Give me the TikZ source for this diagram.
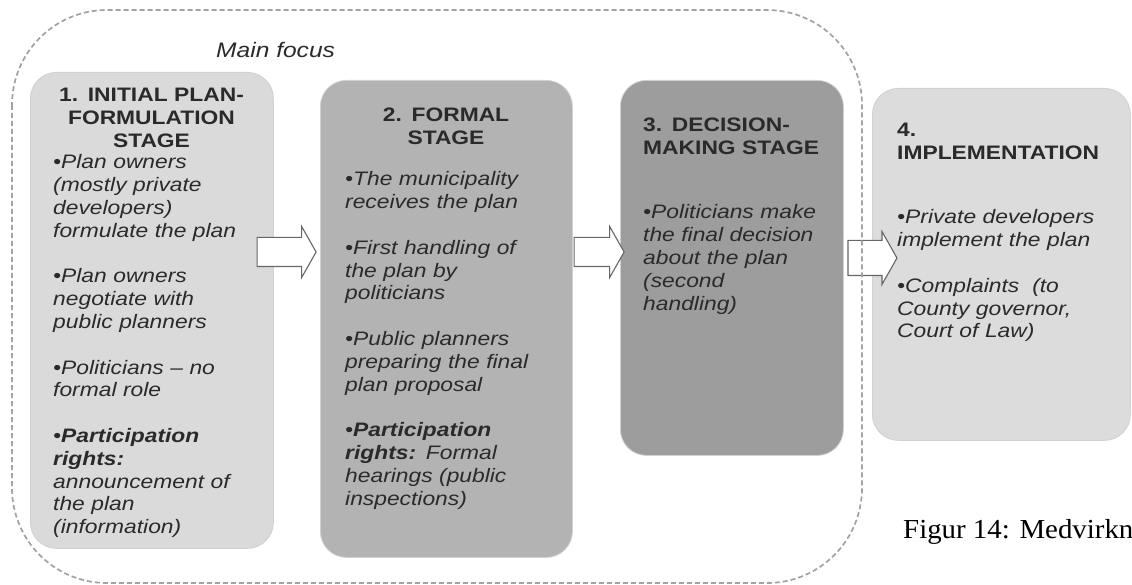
\documentclass[tikz,border=0pt]{standalone}
\usepackage{fontspec}
\setmainfont{Liberation Sans}[FakeStretch=1.17]
\newfontfamily\capfont{Liberation Serif}[FakeStretch=1.05]
\usepackage{tikz}
\usetikzlibrary{calc,shapes.arrows}
\definecolor{frameline}{HTML}{A2A2A2}
\definecolor{stageA}{HTML}{DADADA}
\definecolor{stageB}{HTML}{B3B3B3}
\definecolor{stageC}{HTML}{9D9D9D}
\definecolor{stageD}{HTML}{DCDCDC}
\definecolor{inktext}{HTML}{2A2A2A}
\tikzset{
  stagebox/.style={rounded corners=26pt, draw=black!18, line width=0.8pt, inner sep=0pt, anchor=north west},
  headtxt/.style={font=\fontsize{19.5}{22.8}\selectfont\bfseries, text=inktext, inner sep=0pt, text width=240pt},
  bodytxt/.style={font=\fontsize{19.5}{22.8}\selectfont\itshape, text=inktext, inner sep=0pt, text width=240pt, align=left, anchor=base west},
  stagearrow/.style={single arrow, draw=black!60, fill=white, line width=1.1pt, inner xsep=0pt, minimum width=0pt, single arrow tip angle=121}
}
\begin{document}
\begin{tikzpicture}[x=1pt,y=-1pt]
		\useasboundingbox (0,0) rectangle (1132,585);
		% the four stages
		\node[stagebox, fill=stageA, minimum width=243pt, minimum height=476pt] (s1) at (30,72) {};
		\node[stagebox, fill=stageB, minimum width=252pt, minimum height=477pt] (s2) at (320,80) {};
		\node[stagebox, fill=stageC, minimum width=223pt, minimum height=375pt] (s3) at (620,80) {};
		\node[stagebox, fill=stageD, minimum width=258pt, minimum height=352pt] (s4) at (872,88) {};

		% headings
		\node[headtxt, align=center, anchor=base] (h1) at (151.5,102) {1. INITIAL PLAN-\\FORMULATION\\STAGE};
		\node[headtxt, align=center, anchor=base] (h2) at (446,122) {2. FORMAL\\STAGE};
		\node[headtxt, align=left, anchor=base west] (h3) at (643,132) {3. DECISION-\\MAKING STAGE};
		\node[headtxt, align=left, anchor=base west] (h4) at (897,137) {4.\\IMPLEMENTATION};

		% bullet texts
		\node[bodytxt] (b1) at (53,169) {•Plan owners\\(mostly private\\developers)\\formulate the plan\\[22.8pt]
			•Plan owners\\negotiate with\\public planners\\[22.8pt]
			•Politicians – no\\formal role\\[22.8pt]
			•{\bfseries Participation}\\{\bfseries rights:}\\announcement of\\the plan\\(information)};
		\node[bodytxt] (b2) at (345,186) {•The municipality\\receives the plan\\[22.8pt]
			•First handling of\\the plan by\\politicians\\[22.8pt]
			•Public planners\\preparing the final\\plan proposal\\[22.8pt]
			•{\bfseries Participation}\\{\bfseries rights:} Formal\\hearings (public\\inspections)};
		\node[bodytxt] (b3) at (643,219) {•Politicians make\\the final decision\\about the plan\\(second\\handling)};
		\node[bodytxt] (b4) at (897,224) {•Private developers\\implement the plan\\[22.8pt]
			•Complaints~ (to\\County governor,\\Court of Law)};

		% hollow arrows between the stages
		\node[stagearrow, inner ysep=14pt, single arrow head extend=11pt, minimum height=59pt] (a12) at (282.5,252) {};
		\node[stagearrow, inner ysep=14pt, single arrow head extend=11pt, minimum height=50pt] (a23) at (595,252) {};
		\node[stagearrow, inner ysep=17pt, single arrow head extend=9pt, minimum height=49pt] (a34) at (867.5,258) {};

		% dashed frame round the main focus
		\draw[frameline, line width=1.7pt, dash pattern=on 5pt off 3pt, rounded corners=95pt] (12,10) rectangle (862,583);
		\node[font=\fontsize{21}{25}\selectfont\itshape, text=inktext, anchor=base west, inner sep=0pt] (focus) at (216,58) {Main focus};

		\node[font=\capfont\fontsize{27.5}{32}\selectfont, anchor=base west, inner sep=0pt] (cap) at (903,538) {Figur 14: Medvirkn};
	  \end{tikzpicture}
\end{document}
